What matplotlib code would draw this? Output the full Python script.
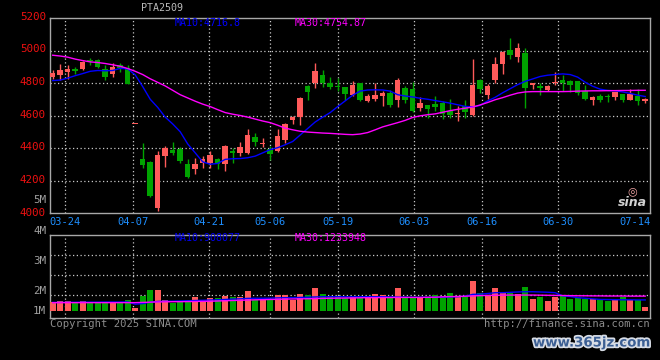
import matplotlib
matplotlib.use("Agg")
import matplotlib.pyplot as plt
import matplotlib.patheffects as pe
import numpy as np

# ---------------- data ----------------
title = "PTA2509"
opens = [4840, 4852, 4870, 4887, 4886, 4942, 4942, 4887, 4857, 4910,
         4895, 4548, 4330, 4316, 4030, 4350, 4390, 4392, 4300, 4270,
         4305, 4310, 4330, 4303, 4380, 4370, 4370, 4469, 4422, 4392,
         4380, 4450, 4570, 4593, 4782, 4802, 4848, 4800, 4783, 4773,
         4724, 4800, 4688, 4703, 4718, 4738, 4697, 4770, 4765, 4646,
         4662, 4672, 4676, 4627, 4608, 4657, 4605, 4820, 4728, 4816,
         4920, 5005, 4960, 4987, 4786, 4779, 4760, 4800, 4820, 4814,
         4810, 4748, 4693, 4722, 4722, 4714, 4732, 4697, 4720, 4688]
closes = [4862, 4880, 4888, 4876, 4930, 4936, 4900, 4840, 4900, 4893,
          4795, 4548, 4295, 4102, 4354, 4400, 4367, 4318, 4220, 4300,
          4333, 4355, 4302, 4410, 4368, 4404, 4483, 4436, 4432, 4362,
          4473, 4548, 4592, 4710, 4747, 4872, 4800, 4776, 4776, 4732,
          4789, 4697, 4717, 4728, 4738, 4667, 4816, 4698, 4625, 4675,
          4642, 4652, 4607, 4605, 4615, 4620, 4785, 4765, 4783, 4918,
          4993, 4975, 5017, 4770, 4800, 4769, 4783, 4808, 4800, 4790,
          4740, 4700, 4714, 4698, 4714, 4742, 4698, 4732, 4692, 4702]
highs = [4880, 4918, 4910, 4900, 4935, 4955, 4950, 4912, 4926, 4926,
         4910, 4548, 4430, 4318, 4380, 4415, 4438, 4405, 4335, 4340,
         4350, 4380, 4340, 4418, 4400, 4440, 4515, 4490, 4462, 4411,
         4520, 4555, 4598, 4716, 4785, 4925, 4877, 4836, 4832, 4775,
         4810, 4802, 4730, 4800, 4748, 4759, 4832, 4780, 4808, 4716,
         4665, 4718, 4690, 4700, 4658, 4693, 4945, 4822, 4792, 4962,
         4995, 5078, 5047, 5015, 4802, 4800, 4790, 4868, 4850, 4818,
         4812, 4788, 4718, 4735, 4734, 4744, 4735, 4762, 4762, 4710]
lows = [4822, 4816, 4822, 4858, 4882, 4910, 4895, 4816, 4836, 4870,
        4795, 4548, 4275, 4098, 4013, 4282, 4360, 4308, 4215, 4242,
        4280, 4275, 4270, 4256, 4310, 4352, 4365, 4414, 4405, 4325,
        4374, 4430, 4545, 4540, 4693, 4767, 4775, 4765, 4750, 4695,
        4718, 4691, 4686, 4691, 4656, 4653, 4650, 4680, 4624, 4625,
        4583, 4625, 4580, 4583, 4567, 4587, 4600, 4740, 4700, 4800,
        4857, 4948, 4930, 4645, 4762, 4727, 4752, 4790, 4753, 4746,
        4728, 4693, 4665, 4686, 4686, 4697, 4686, 4693, 4665, 4680]
# volume in millions
volumes = [0.76, 0.84, 0.84, 0.62, 0.84, 0.62, 0.73, 0.73, 0.73, 0.73,
           0.90, 0.20, 1.24, 1.75, 1.75, 0.90, 0.62, 0.84, 0.84, 1.13,
           0.84, 1.04, 1.04, 1.24, 1.13, 1.13, 1.66, 0.90, 0.96, 0.90,
           1.32, 1.32, 0.90, 1.41, 1.32, 1.89, 1.41, 1.18, 1.18, 1.04,
           1.18, 1.04, 1.04, 1.41, 1.32, 1.04, 1.94, 1.13, 1.13, 1.13,
           1.13, 1.32, 1.24, 1.52, 1.24, 1.18, 2.51, 1.52, 1.32, 1.94,
           1.52, 1.52, 1.41, 2.00, 0.99, 1.13, 0.84, 1.13, 1.24, 0.96,
           1.04, 0.96, 0.96, 0.96, 0.84, 0.96, 1.18, 0.90, 0.90, 0.34]
ma10 = [4815, 4818, 4830, 4845, 4858, 4872, 4877, 4875, 4877, 4890,
        4887, 4850, 4778, 4700, 4650, 4590, 4548, 4500, 4425, 4370,
        4315, 4300, 4305, 4330, 4334, 4335, 4340, 4350, 4370, 4390,
        4402, 4420, 4440, 4480, 4520, 4560, 4590, 4618, 4655, 4690,
        4725, 4750, 4757, 4758, 4757, 4750, 4728, 4720, 4714, 4706,
        4700, 4692, 4684, 4676, 4666, 4656, 4653, 4662, 4690, 4712,
        4740, 4765, 4790, 4810, 4825, 4840, 4848, 4852, 4856, 4852,
        4836, 4805, 4780, 4762, 4754, 4752, 4745, 4736, 4725, 4717]
ma30 = [4971, 4966, 4959, 4947, 4938, 4930, 4926, 4920, 4912, 4903,
        4889, 4872, 4852, 4826, 4804, 4782, 4755, 4728, 4708, 4688,
        4670, 4655, 4636, 4618, 4608, 4600, 4590, 4578, 4566, 4556,
        4540, 4522, 4512, 4503, 4498, 4495, 4492, 4490, 4487, 4484,
        4482, 4486, 4495, 4512, 4530, 4543, 4556, 4570, 4588, 4598,
        4605, 4610, 4620, 4630, 4638, 4645, 4652, 4665, 4680, 4697,
        4710, 4725, 4738, 4745, 4747, 4747, 4747, 4747, 4747, 4748,
        4750, 4751, 4752, 4752, 4753, 4753, 4754, 4754, 4755, 4755]
vol_ma10 = [0.70, 0.70, 0.71, 0.71, 0.72, 0.72, 0.72, 0.73, 0.73, 0.73,
            0.74, 0.55, 0.60, 0.72, 0.78, 0.80, 0.80, 0.82, 0.84, 0.86,
            0.88, 0.90, 0.92, 0.95, 0.98, 1.00, 1.04, 1.05, 1.05, 1.06,
            1.08, 1.10, 1.10, 1.12, 1.14, 1.16, 1.18, 1.18, 1.18, 1.17,
            1.17, 1.18, 1.18, 1.18, 1.18, 1.16, 1.15, 1.14, 1.13, 1.13,
            1.13, 1.13, 1.14, 1.16, 1.18, 1.22, 1.38, 1.40, 1.45, 1.52,
            1.52, 1.55, 1.58, 1.60, 1.60, 1.58, 1.56, 1.52, 1.25, 1.20,
            1.10, 1.05, 1.00, 0.95, 0.94, 0.93, 0.92, 0.92, 0.91, 0.91]
vol_ma30 = [0.68, 0.68, 0.68, 0.68, 0.68, 0.68, 0.68, 0.68, 0.68, 0.68,
            0.68, 0.68, 0.70, 0.72, 0.74, 0.75, 0.76, 0.76, 0.77, 0.78,
            0.79, 0.80, 0.82, 0.84, 0.86, 0.88, 0.90, 0.92, 0.93, 0.95,
            0.96, 0.98, 0.99, 1.00, 1.01, 1.02, 1.04, 1.05, 1.06, 1.07,
            1.08, 1.09, 1.10, 1.10, 1.11, 1.11, 1.12, 1.12, 1.12, 1.12,
            1.13, 1.14, 1.17, 1.19, 1.20, 1.22, 1.25, 1.27, 1.29, 1.30,
            1.31, 1.32, 1.32, 1.32, 1.32, 1.31, 1.30, 1.29, 1.28, 1.27,
            1.26, 1.26, 1.25, 1.25, 1.24, 1.24, 1.24, 1.23, 1.23, 1.23]
date_labels = ["03-24", "04-07", "04-21", "05-06", "05-19",
               "06-03", "06-16", "06-30", "07-14"]
price_labels = ["5200", "5000", "4800", "4600", "4400", "4200", "4000"]
price_levels = [5200, 5000, 4800, 4600, 4400, 4200, 4000]
vol_labels = ["5M", "4M", "3M", "2M", "1M"]
ma_text = ["MA10:4716.8", "MA30:4754.87"]
vol_ma_text = ["MA10:908077", "MA30:1233948"]

# ---------------- layout ----------------
W, H = 660, 360
BG = "black"
RED = "#ff5a5a"
GREEN = "#00a300"
GRID = "#c8c8c8"
BORDER = "#a8a8a8"
MONO = "DejaVu Sans Mono"

# pixel positions of the date gridlines / labels
date_px = [65, 133.3, 209.3, 270, 338.3, 414.3, 482.3, 558.3, 635]
X0, DX = 52.7, 7.5          # pixel of first candle, pixels per candle


def to_idx(px):
    return (px - X0) / DX


def fx(px):
    return px / W


def fy(py):
    return 1 - py / H


fig = plt.figure(figsize=(W / 100, H / 100), dpi=100, facecolor=BG)

ax = fig.add_axes([fx(50), fy(213), 600 / W, 195 / H], facecolor=BG)
axv = fig.add_axes([fx(50), fy(318), 600 / W, 83 / H], facecolor=BG)

n = len(closes)
x = np.arange(n)
o = np.array(opens, float)
c = np.array(closes, float)
hi = np.array(highs, float)
lo = np.array(lows, float)
up = c >= o
cols = [RED if u else GREEN for u in up]

xlim = (to_idx(50), to_idx(650))
for a in (ax, axv):
    a.set_xlim(*xlim)
    a.set_xticks([])
    a.set_yticks([])
    for s in a.spines.values():
        s.set_color(BORDER)
        s.set_linewidth(1.0)

# ---- grids ----
grid_kw = dict(color=GRID, lw=0.9, ls=(0, (1, 2)), zorder=1)
for px in date_px[:-1]:
    ax.axvline(to_idx(px), **grid_kw)
    axv.axvline(to_idx(px), **grid_kw)
for lvl in price_levels[1:-1]:
    ax.axhline(lvl, **grid_kw)

ax.set_ylim(4000, 5200)

# volume axis: 0 at pixel 310.7, 11.85 px per million
VB, VS = 310.7, 11.85


def vpx(py):
    return (VB - py) / VS


axv.set_ylim(vpx(318), vpx(235))
for py in (255, 275, 295):
    axv.axhline(vpx(py), **grid_kw)

# ---- candles ----
bw = 0.74
ax.vlines(x, lo, hi, colors=cols, lw=1.0, zorder=3)
body_h = np.maximum(np.abs(c - o), 7)
ax.bar(x, body_h, bottom=np.minimum(o, c), width=bw, color=cols,
       linewidth=0, zorder=4)
ax.plot(x, ma10, color="#0000ff", lw=1.0, zorder=5)
ax.plot(x, ma30, color="#ff00ff", lw=1.0, zorder=5)

# ---- volume ----
axv.bar(x, volumes, width=0.76, color=cols, linewidth=0, zorder=3)
axv.plot(x, vol_ma10, color="#0000ff", lw=1.0, zorder=5)
axv.plot(x, vol_ma30, color="#ff00ff", lw=1.0, zorder=5)

# ---- texts ----
fs = 7.2
fig.text(fx(162), fy(8), title, color="#bbbbbb", fontsize=fs,
         family=MONO, ha="center", va="center")
fig.text(fx(175), fy(23), ma_text[0], color="#0000ff", fontsize=fs,
         family=MONO, ha="left", va="center")
fig.text(fx(295), fy(23), ma_text[1], color="#ff00ff", fontsize=fs,
         family=MONO, ha="left", va="center")
fig.text(fx(175), fy(238), vol_ma_text[0], color="#0000ee", fontsize=fs,
         family=MONO, ha="left", va="center")
fig.text(fx(295), fy(238), vol_ma_text[1], color="#ff00ff", fontsize=fs,
         family=MONO, ha="left", va="center")

price_py = [17, 49, 82, 115, 147.5, 180, 213]
for lab, py in zip(price_labels, price_py):
    fig.text(fx(46), fy(py), lab, color="#ee1111", fontsize=fs + 0.6,
             family=MONO, ha="right", va="center")

vol_py = [200, 231, 261, 291, 311]
for lab, py in zip(vol_labels, vol_py):
    fig.text(fx(46), fy(py), lab, color="#a0a0a0", fontsize=fs + 0.6,
             family=MONO, ha="right", va="center")

for lab, px in zip(date_labels, date_px):
    fig.text(fx(px), fy(222), lab, color="#1e8fff", fontsize=fs + 0.3,
             family=MONO, ha="center", va="center")

fig.text(fx(50), fy(324), "Copyright 2025 SINA.COM", color="#8c8c8c",
         fontsize=fs + 0.4, family=MONO, ha="left", va="center")
fig.text(fx(650), fy(324), "http://finance.sina.com.cn", color="#8c8c8c",
         fontsize=fs + 0.4, family=MONO, ha="right", va="center")

# sina logo
fig.text(fx(632), fy(202), "sina", color="#d0d0d0", fontsize=9,
         fontweight="bold", style="italic", ha="center", va="center")
fig.text(fx(632), fy(191), "\u25CE", color="#f4a6a6", fontsize=8,
         ha="center", va="center")

# watermark
fig.text(fx(592), fy(343), "www.365jz.com", color="#3c5f94", fontsize=9.6,
         fontweight="bold", ha="center", va="center",
         path_effects=[pe.withStroke(linewidth=2.5, foreground="#d8dde6")])

fig.savefig("out.png", dpi=100, facecolor=BG)
